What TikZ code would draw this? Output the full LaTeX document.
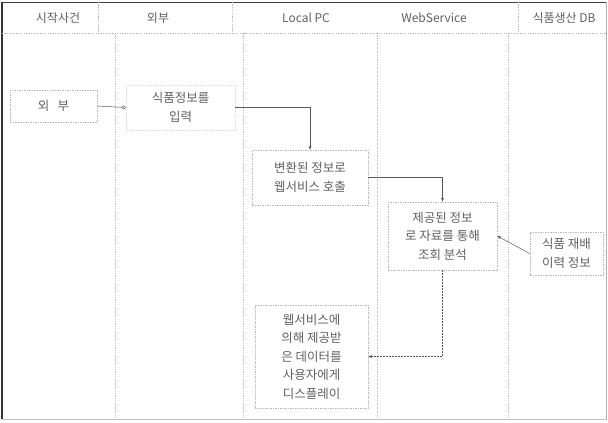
\documentclass[tikz,border=0pt]{standalone}
\usepackage{fontspec}
\setmainfont{Noto Sans CJK KR}
\usetikzlibrary{arrows.meta}
\begin{document}
\begin{tikzpicture}[x=1pt,y=-1pt,
  lane/.style={draw=gray!55, dash pattern=on 1.2pt off 1.2pt, line width=0.5pt},
  box/.style={draw=gray!55, dash pattern=on 1.5pt off 1pt, line width=0.6pt, text=gray!75!black, align=center, inner sep=0pt, font=\fontsize{12.5}{18.5}\selectfont},
  head/.style={text=gray!75!black, font=\fontsize{12}{14}\selectfont, inner sep=0pt},
  conn/.style={draw=gray!70!black, line width=0.5pt, -{Stealth[length=4pt,width=3pt]}},
  dconn/.style={conn, dash pattern=on 1.5pt off 1.5pt}]
\useasboundingbox (0,0) rectangle (608,423);
% frame
\draw[gray!60, line width=0.8pt] (2,2) rectangle (606,419);
\draw[gray!50!black, line width=1pt] (2,2) -- (606,2);
\draw[gray!40!black, line width=1.2pt] (2,2) -- (2,419);
\draw[gray!50, line width=1pt] (2,419) -- (606,419);
\draw[lane] (2,33) -- (606,33);
% header separators
\draw[lane] (98,2) -- (98,33);
\draw[lane] (232,2) -- (232,33);
\draw[lane] (518,2) -- (518,33);
% lane lines
\draw[lane] (115,33) -- (115,419);
\draw[lane] (243,33) -- (243,419);
\draw[lane] (377,33) -- (377,419);
\draw[lane] (508,33) -- (508,419);
% headers
\node[head] (h1) at (58,18) {시작사건};
\node[head] (h2) at (158,18) {외부};
\node[head] (h3) at (306,18) {Local PC};
\node[head] (h4) at (434,18) {WebService};
\node[head] (h5) at (564,18) {식품생산 DB};
% boxes
\node[box, minimum width=87pt, minimum height=32pt] (b1) at (53.5,106) {외 \ \ 부};
\node[box, draw=gray!30, minimum width=109pt, minimum height=45pt] (b2) at (180.5,107.5) {식품정보를\\입력};
\node[box, minimum width=116pt, minimum height=55pt] (b3) at (310,177.5) {변환된 정보로\\웹서비스 호출};
\node[box, minimum width=109pt, minimum height=68pt] (b4) at (442.5,236) {제공된 정보\\로 자료를 통해\\조회 분석};
\node[box, minimum width=73pt, minimum height=43pt] (b5) at (566.5,253.5) {식품 재배\\이력 정보};
\node[box, minimum width=113pt, minimum height=103pt] (b6) at (311.5,356.5) {웹서비스에\\의해 제공받\\은 데이터를\\사용자에게\\디스플레이};
% connectors
\draw[draw=gray!70!black, line width=0.5pt, -{Circle[open,length=4pt]}] (b1.east) -- (b2.west);
\draw[conn] (b2.east) -| (b3.north);
\draw[conn] (b3.east) -| (b4.north);
\draw[conn] (b5.west) -- (b4.east);
\draw[dconn] (b4.south) |- (b6.east);
\end{tikzpicture}
\end{document}
